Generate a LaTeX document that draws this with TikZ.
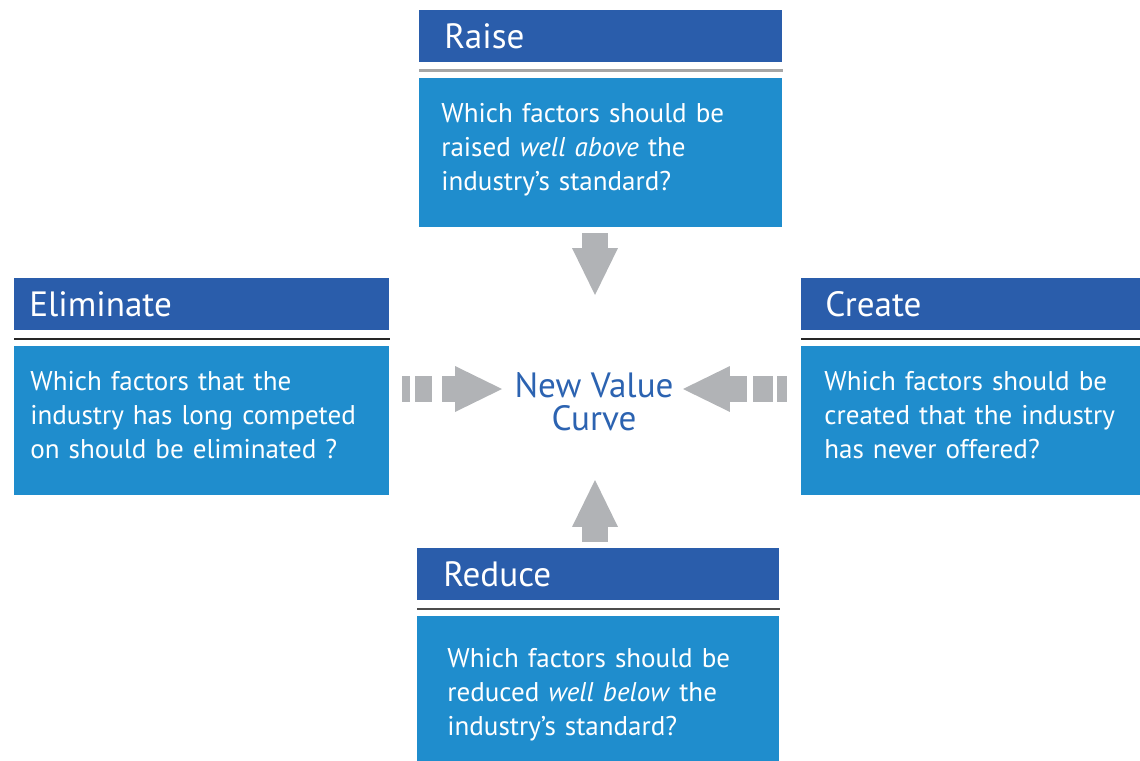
\documentclass[tikz,border=0pt]{standalone}
\usepackage{fontspec}
\setmainfont{PT Sans}
\usetikzlibrary{arrows.meta}

\definecolor{headblue}{HTML}{2A5DAB}
\definecolor{bodyblue}{HTML}{1F8DCD}
\definecolor{curveblue}{HTML}{2C63B1}
\definecolor{arrowgray}{HTML}{B1B3B6}

\tikzset{
	head/.style={fill=headblue, text=white, anchor=north west, align=left,
		font=\fontsize{20}{22}\selectfont, inner ysep=0pt,
		minimum height=1.04cm},
	quest/.style={fill=bodyblue, text=white, anchor=north west, align=left,
		font=\fontsize{15.4}{19.3}\selectfont, inner ysep=0pt, text depth=1.59cm,
		minimum height=2.98cm},
	sepline/.style={line width=1pt, black!85},
	bigarrow/.style={arrowgray, line width=0.52cm,
		-{Triangle[length=0.94cm, width=0.92cm, line width=0pt]}},
	dashbar/.style={arrowgray, line width=0.52cm}
}

\begin{document}
\begin{tikzpicture}[x=0.02cm, y=-0.02cm]
	\useasboundingbox (0,0) rectangle (1140,761);

	% the four action boxes
	\node[head, inner xsep=0.5cm, text width=6.26cm] (raise) at (419,10) {Raise};
	\node[quest, inner xsep=0.44cm, text width=6.38cm] (raiseq) at (419,78)
		{Which factors should be\\ raised \textit{well above} the\\ industry’s standard?};

	\node[head, inner xsep=0.3cm, text width=6.9cm] (elim) at (14,278) {Eliminate};
	\node[quest, inner xsep=0.32cm, text width=6.86cm] (elimq) at (14,346)
		{Which factors that the\\ industry has long competed\\ on should be eliminated ?};

	\node[head, inner xsep=0.48cm, text width=5.82cm] (create) at (801,278) {Create};
	\node[quest, inner xsep=0.46cm, text width=5.86cm] (createq) at (801,346)
		{Which factors should be\\ created that the industry\\ has never offered?};

	\node[head, inner xsep=0.52cm, text width=6.2cm] (reduce) at (417,548) {Reduce};
	\node[quest, inner xsep=0.6cm, text width=6.04cm, text depth=1.31cm] (reduceq) at (417,616)
		{Which factors should be\\ reduced \textit{well below} the\\ industry’s standard?};

	% separators
	\draw[sepline, gray!70, line width=1.6pt] ([yshift=-0.16cm]raise.south west) -- ([yshift=-0.16cm]raise.south east);
	\draw[sepline] ([yshift=-0.16cm]elim.south west) -- ([yshift=-0.16cm]elim.south east);
	\draw[sepline] ([yshift=-0.16cm]create.south west) -- ([yshift=-0.16cm]create.south east);
	\draw[sepline, black!70] ([yshift=-0.16cm]reduce.south west) -- ([yshift=-0.16cm]reduce.south east);

	% centre
	\node[text=curveblue, align=center, font=\fontsize{20}{18.8}\selectfont] (nvc) at (594,402) {New Value\\ Curve};

	\coordinate (tipN) at (595,295);
	\coordinate (tipS) at (595,480);
	\coordinate (tipW) at (502,389);
	\coordinate (tipE) at (683,389);

	\draw[bigarrow] (595,233) -- (tipN);
	\draw[bigarrow] (595,542) -- (tipS);
	\draw[bigarrow] (442,389) -- (tipW);
	\draw[bigarrow] (747,389) -- (tipE);
	\draw[dashbar] (402,389) -- (410,389) (415,389) -- (432,389);
	\draw[dashbar] (753,389) -- (773,389) (777,389) -- (787,389);
\end{tikzpicture}
\end{document}
